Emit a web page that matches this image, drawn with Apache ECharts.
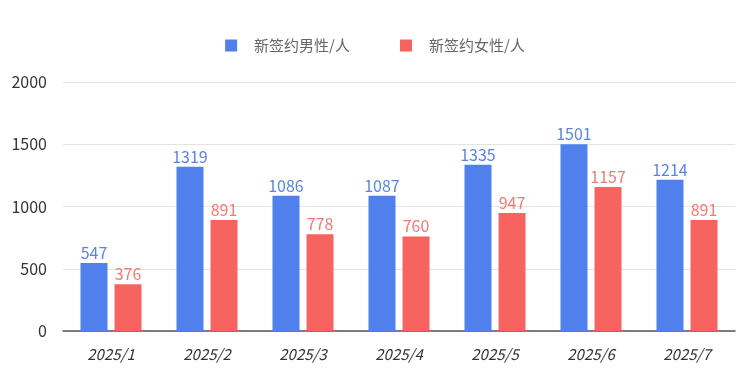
<!DOCTYPE html>
<html>
<head>
<meta charset="utf-8">
<script src="https://cdn.jsdelivr.net/npm/echarts@6/dist/echarts.min.js"></script>
<style>html,body{margin:0;padding:0;background:#fff;}#c{width:750px;height:375px;}</style>
</head>
<body>
<div id="c"></div>
<script>
const categories = ['2025/1','2025/2','2025/3','2025/4','2025/5','2025/6','2025/7'];
const maleName = '新签约男性/人';
const femaleName = '新签约女性/人';
const maleValues = [547, 1319, 1086, 1087, 1335, 1501, 1214];
const femaleValues = [376, 891, 778, 760, 947, 1157, 891];

const font = '"Noto Sans CJK SC", "Noto Sans", sans-serif';
const chart = echarts.init(document.getElementById('c'), null, {renderer: 'canvas'});
chart.setOption({
  animation: false,
  textStyle: {fontFamily: font},
  legend: {
    top: 33,
    left: 'center',
    itemWidth: 12,
    itemHeight: 12,
    itemGap: 50,
    icon: 'rect',
    textStyle: {fontSize: 15, color: '#666', fontFamily: font, padding: [0, 0, 0, 12]},
    data: [maleName, femaleName]
  },
  grid: {left: 63, right: 15, top: 82, bottom: 44},
  xAxis: {
    type: 'category',
    data: categories,
    axisLine: {lineStyle: {color: '#555', width: 1.5}},
    axisTick: {show: false},
    axisLabel: {fontSize: 15, color: '#333', fontStyle: 'italic', margin: 16, fontFamily: font}
  },
  yAxis: {
    type: 'value',
    min: 0, max: 2000, interval: 500,
    axisLine: {show: false},
    axisTick: {show: false},
    splitLine: {lineStyle: {color: '#e3e3e3'}},
    axisLabel: {fontSize: 16, color: '#333', margin: 16, fontFamily: font, formatter: v => String(v)}
  },
  series: [
    {
      name: maleName, type: 'bar', data: maleValues,
      barWidth: 27, barGap: '26%',
      itemStyle: {color: '#4f80ec'},
      label: {show: true, position: 'top', distance: 2, fontSize: 16, color: '#5b85dc', fontFamily: font}
    },
    {
      name: femaleName, type: 'bar', data: femaleValues,
      barWidth: 27, barGap: '26%',
      itemStyle: {color: '#f7645f'},
      label: {show: true, position: 'top', distance: 2, fontSize: 16, color: '#ef7b77', fontFamily: font}
    }
  ]
});
</script>
</body>
</html>
